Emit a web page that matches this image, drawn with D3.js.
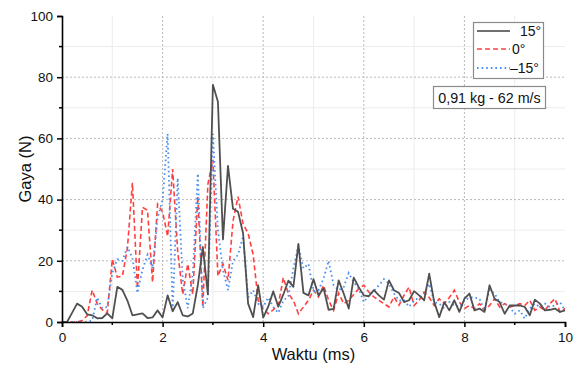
<!DOCTYPE html>
<html>
<head>
<meta charset="utf-8">
<script src="https://cdn.jsdelivr.net/npm/d3@7"></script>
<style>
  html, body { margin: 0; padding: 0; background: #fff; }
  svg { display: block; font-family: "Liberation Sans", Arial, Helvetica, sans-serif; }
</style>
</head>
<body>
<svg id="chart" width="576" height="365"></svg>
<script>
// Time axis: 0 to 10 ms, sampled every 0.1 ms
const timeMs = d3.range(0, 101).map(i => +(i * 0.1).toFixed(1));

// Force (N) for each impact angle
const force15 = [
  0, 0, 3, 6, 5, 2.5, 2.2, 1.2, 1.3, 2.8,
  1.2, 11.5, 10.5, 7, 2.2, 2.5, 2.8, 1.3, 1.5, 3.8,
  1.5, 8.7, 3.5, 6.5, 2.2, 1.8, 2.8, 12, 24.5, 9,
  77.5, 72, 27, 51, 37, 36, 29, 6, 1.6, 12,
  1.4, 5, 10, 5, 9, 13.5, 11.5, 25.5, 9.5, 8.7,
  14, 8.7, 11, 4, 4.3, 13.6, 9.3, 4.4, 14.5, 11.4,
  8.7, 8.4, 10.4, 8.7, 7.3, 13.6, 10.4, 9.5, 6.5, 7.1,
  10.1, 8.7, 7.1, 15.8, 6.5, 1.6, 6.5, 3.8, 7.1, 3.3,
  7.6, 9.3, 3.8, 4.4, 3.3, 12, 7.6, 6.5, 2.7, 5.4,
  5.4, 5.4, 4.9, 2.2, 7.3, 6, 3.8, 4, 4.4, 3.3,
  3.8
];
const force0 = [
  0, 0, 0, 0, 0.5, 2, 10.4, 6, 4, 3,
  20.5, 14.7, 15, 24, 45.5, 11, 37.5, 36.5, 13, 38.5,
  36, 28, 50, 23, 9, 19, 9, 41, 5, 45,
  53, 15, 19, 13.6, 33, 41, 32, 29, 22, 7,
  4.4, 2.7, 4, 5.5, 14.5, 9.3, 7, 2.7, 4.9, 7.1,
  10.4, 8.2, 12, 7.1, 3.8, 9.5, 6, 7.1, 9, 10.9,
  12, 9.8, 8.2, 7.1, 6, 4.9, 8.2, 5.5, 8.7, 11.4,
  5.4, 7.1, 9.8, 8, 5.4, 7.6, 6, 8, 10.4, 6.5,
  4.4, 5.4, 4.4, 6, 3.8, 5.4, 7.6, 4.9, 6, 4.9,
  5.4, 6, 5.4, 7.1, 3.8, 4.9, 3.8, 6, 7.6, 3.3,
  4.4
];
const forceMinus15 = [
  0, 0, 0, 0, 0, 0, 0.5, 8, 4.5, 5,
  16, 20.5, 20, 24.5, 21, 9.5, 17, 22, 17.5, 34,
  40, 61.5, 4, 47, 14, 4.5, 15.8, 48.5, 4.5, 8,
  61.5, 30, 17, 10.4, 20, 22, 28, 8, 10.4, 6,
  4.9, 8, 4.9, 3, 7, 8.4, 17.5, 25, 17.5, 19,
  10, 10.4, 14.2, 20, 12, 10.4, 11.4, 16, 13, 10.9,
  6.5, 8.7, 10.1, 12, 14, 12.5, 9.3, 7, 7.1, 5,
  7, 8, 9.3, 12.5, 6.5, 6, 4.4, 6.5, 5.4, 4.9,
  7, 8, 8, 7.6, 3.8, 10.5, 9.3, 6.5, 6, 4.9,
  2.7, 3.8, 1.1, 4.4, 6, 4.9, 6, 4.9, 5.4, 6.5,
  3.8
];

const seriesNames = ["15°", "0°", "–15°"];
const xTicks = [0, 2, 4, 6, 8, 10];
const yTicks = [0, 20, 40, 60, 80, 100];
const xTitle = "Waktu (ms)";
const yTitle = "Gaya (N)";
const noteText = "0,91 kg - 62 m/s";

const svg = d3.select("#chart");
const margin = { left: 62, right: 11, top: 16, bottom: 43 };
const W = 576, H = 365;

const x = d3.scaleLinear().domain([0, 10]).range([margin.left, W - margin.right]);
const y = d3.scaleLinear().domain([0, 100]).range([H - margin.bottom, margin.top]);

// Minor grid (faint)
const gMinor = svg.append("g");
gMinor.selectAll("line.vx").data(d3.range(1, 10, 2)).join("line")
  .attr("x1", d => x(d)).attr("x2", d => x(d))
  .attr("y1", y(0)).attr("y2", y(100))
  .attr("stroke", "#ececec").attr("stroke-width", 1);
gMinor.selectAll("line.hy").data(d3.range(10, 100, 20)).join("line")
  .attr("x1", x(0)).attr("x2", x(10))
  .attr("y1", d => y(d)).attr("y2", d => y(d))
  .attr("stroke", "#ececec").attr("stroke-width", 1);

// Major grid (dotted)
const gMajor = svg.append("g");
gMajor.selectAll("line.vx").data(xTicks.filter(d => d > 0 && d < 10)).join("line")
  .attr("x1", d => x(d)).attr("x2", d => x(d))
  .attr("y1", y(0)).attr("y2", y(100))
  .attr("stroke", "#b8b8b8").attr("stroke-width", 1).attr("stroke-dasharray", "2,2");
gMajor.selectAll("line.hy").data(yTicks.filter(d => d > 0 && d < 100)).join("line")
  .attr("x1", x(0)).attr("x2", x(10))
  .attr("y1", d => y(d)).attr("y2", d => y(d))
  .attr("stroke", "#b8b8b8").attr("stroke-width", 1).attr("stroke-dasharray", "2,2");

// Series lines
const line = vals => d3.line().x((d, i) => x(timeMs[i])).y(d => y(d))(vals);

svg.append("path").attr("d", line(force0))
  .attr("fill", "none").attr("stroke", "#ff4040").attr("stroke-width", 1.6)
  .attr("stroke-dasharray", "5,3");
svg.append("path").attr("d", line(forceMinus15))
  .attr("fill", "none").attr("stroke", "#4a8ff0").attr("stroke-width", 1.8)
  .attr("stroke-dasharray", "1.6,3").attr("stroke-linecap", "butt");
svg.append("path").attr("d", line(force15))
  .attr("fill", "none").attr("stroke", "#505050").attr("stroke-width", 1.8)
  .attr("stroke-linejoin", "round");

// Axes
const xAxis = d3.axisBottom(x).tickValues(xTicks).tickSize(5).tickPadding(5).tickFormat(d3.format("d"));
const yAxis = d3.axisLeft(y).tickValues(yTicks).tickSize(5).tickPadding(4).tickFormat(d3.format("d"));

const gx = svg.append("g").attr("transform", `translate(0,${y(0)})`).call(xAxis);
const gy = svg.append("g").attr("transform", `translate(${x(0)},0)`).call(yAxis);

// Minor ticks
gx.selectAll("line.minor").data(d3.range(1, 10, 2)).join("line")
  .attr("class", "minor").attr("x1", d => x(d)).attr("x2", d => x(d))
  .attr("y1", 0).attr("y2", 3).attr("stroke", "#000").attr("stroke-width", 1.5);
gy.selectAll("line.minor").data(d3.range(10, 100, 20)).join("line")
  .attr("class", "minor").attr("y1", d => y(d)).attr("y2", d => y(d))
  .attr("x1", 0).attr("x2", -3).attr("stroke", "#000").attr("stroke-width", 1.5);

[gx, gy].forEach(g => {
  g.select(".domain").attr("stroke", "#000").attr("stroke-width", 1.6);
  g.selectAll(".tick line").attr("stroke", "#000").attr("stroke-width", 1.5);
  g.selectAll(".tick text").attr("font-size", 13.5).attr("fill", "#111")
    .attr("font-family", "'Liberation Sans', Arial, sans-serif");
});

// Axis titles
svg.append("text").text(xTitle)
  .attr("x", (x(0) + x(10)) / 2).attr("y", 360)
  .attr("text-anchor", "middle").attr("font-size", 16.5).attr("fill", "#111");
svg.append("text").text(yTitle)
  .attr("transform", `translate(31,${(y(0) + y(100)) / 2}) rotate(-90)`)
  .attr("text-anchor", "middle").attr("font-size", 16.5).attr("fill", "#111");

// Legend
const legend = svg.append("g");
legend.append("rect").attr("x", 473.5).attr("y", 22.5).attr("width", 70).attr("height", 56)
  .attr("fill", "#fff").attr("stroke", "#8a8a8a").attr("stroke-width", 1.2);
const legStyles = [
  { stroke: "#707070", dash: null, w: 2.2 },
  { stroke: "#ff4040", dash: "5,3", w: 1.5 },
  { stroke: "#4a8ff0", dash: "1.6,3", w: 1.8 }
];
const legRows = [31, 49, 68];
const legTextX = [520, 512, 510];
seriesNames.forEach((name, i) => {
  legend.append("line").attr("x1", 477).attr("x2", 510)
    .attr("y1", legRows[i]).attr("y2", legRows[i])
    .attr("stroke", legStyles[i].stroke).attr("stroke-width", legStyles[i].w)
    .attr("stroke-dasharray", legStyles[i].dash);
  legend.append("text").text(name).attr("x", legTextX[i]).attr("y", legRows[i] + 5)
    .attr("font-size", 14).attr("fill", "#111");
});

// Note box
const note = svg.append("g");
note.append("rect").attr("x", 433.5).attr("y", 86.5).attr("width", 112).attr("height", 22)
  .attr("fill", "#fff").attr("stroke", "#8a8a8a").attr("stroke-width", 1.2);
note.append("text").text(noteText).attr("x", 489.5).attr("y", 103)
  .attr("text-anchor", "middle").attr("font-size", 14.3).attr("fill", "#111");
</script>
</body>
</html>
